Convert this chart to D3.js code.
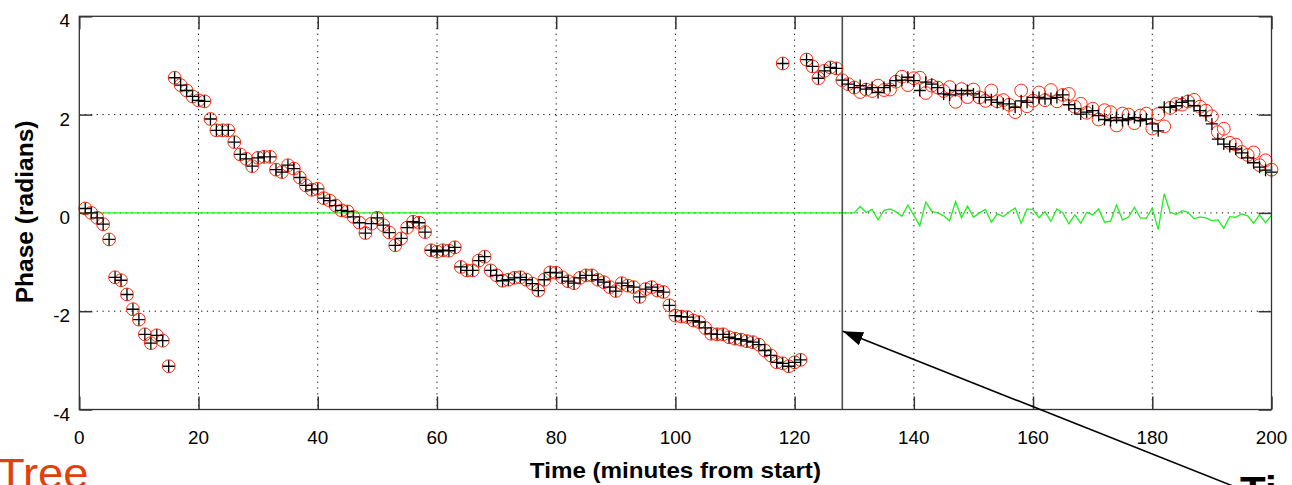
<!DOCTYPE html>
<html>
<head>
<meta charset="utf-8">
<script src="https://cdn.jsdelivr.net/npm/d3@7"></script>
<style>
  html, body { margin: 0; padding: 0; background: #fff; overflow: hidden; }
  svg { display: block; }
  text { font-family: "Liberation Sans", Arial, Helvetica, sans-serif; }
</style>
</head>
<body>
<svg id="chart" width="1292" height="485"></svg>
<script>
// ---- data ---------------------------------------------------------------
// Phase samples before the model switch (fit equals measurement here)
const timeA = [1,2,3,4,5,6,7,8,9,10,11,12,13,14,15,
  16,17,18,19,20,21,22,23,24,25,26,27,28,29,30,31,32,33,34,35,36,37,38,39,40,
  41,42,43,44,45,46,47,48,49,50,51,52,53,54,55,56,57,58,59,60,61,62,63,64,65,
  66,67,68,69,70,71,72,73,74,75,76,77,78,79,80,81,82,83,84,85,86,87,88,89,90,
  91,92,93,94,95,96,97,98,99,100,101,102,103,104,105,106,107,108,109,110,111,
  112,113,114,115,116,117,118,119,120,121,118,122,123,124,125,126,127];
const phaseA = [0.09,0.0,-0.1,-0.23,-0.54,-1.31,-1.37,-1.66,-1.96,-2.17,-2.47,-2.65,-2.49,-2.6,-3.12,
  2.75,2.6,2.49,2.37,2.29,2.27,1.91,1.68,1.68,1.68,1.44,1.19,1.1,0.95,1.12,1.14,1.14,0.88,0.83,0.97,0.9,0.72,0.56,0.47,0.49,
  0.3,0.25,0.15,0.05,0.03,-0.08,-0.2,-0.41,-0.22,-0.1,-0.25,-0.4,-0.66,-0.52,-0.3,-0.18,-0.2,-0.39,-0.76,-0.79,-0.76,-0.77,-0.7,-1.1,-1.17,
  -1.17,-0.97,-0.89,-1.17,-1.27,-1.38,-1.36,-1.32,-1.31,-1.36,-1.44,-1.58,-1.36,-1.21,-1.22,-1.31,-1.39,-1.43,-1.32,-1.27,-1.27,-1.36,-1.41,-1.51,-1.59,
  -1.43,-1.48,-1.51,-1.71,-1.55,-1.51,-1.58,-1.61,-1.88,-2.09,-2.11,-2.12,-2.19,-2.22,-2.34,-2.46,-2.47,-2.47,-2.53,-2.56,-2.58,
  -2.61,-2.63,-2.68,-2.8,-2.9,-3.04,-3.06,-3.12,-3.04,-2.99,3.04,3.12,2.98,2.74,2.89,2.96,2.94];

// Samples after the switch: measured phase and residual (measured - fit)
const timeB = [128,129,130,131,132,133,134,135,136,137,138,139,140,141,142,143,144,145,146,147,148,149,150,
  151,152,153,154,155,156,157,158,159,160,161,162,163,164,165,166,167,168,169,170,171,172,173,174,175,
  176,177,178,179,180,181,182,183,184,185,186,187,188,189,190,191,192,193,194,195,196,197,198,199,200];
const phaseB = [2.70,2.62,2.55,2.59,2.52,2.55,2.45,2.55,2.59,2.69,2.70,2.76,2.69,2.49,2.66,2.62,2.55,2.42,2.40,2.49,2.42,2.49,2.42,
  2.35,2.35,2.30,2.25,2.22,2.22,2.15,2.28,2.25,2.35,2.35,2.32,2.33,2.35,2.40,2.20,2.12,2.01,2.05,2.08,1.98,1.90,1.88,1.94,1.88,
  1.91,1.94,1.88,1.91,1.81,1.67,2.15,2.15,2.18,2.25,2.28,2.18,2.08,1.98,1.81,1.50,1.40,1.35,1.30,1.22,1.12,1.02,0.93,0.87,0.83];
const residB = [0,0,0,0.13,0.01,0.07,-0.14,0.05,0.08,0.02,-0.07,0.16,-0.05,-0.26,0.22,0.03,0.0,-0.06,-0.16,0.23,-0.1,0.135,-0.09,
  0.0,0.07,-0.19,-0.02,-0.075,0.02,0.1,-0.21,0.08,0.067,-0.1,0.027,-0.17,0.08,0.0,-0.22,-0.04,-0.21,0.013,-0.04,0.08,-0.19,-0.17,0.16,-0.14,
  -0.09,0.115,-0.1,-0.11,0.094,-0.34,0.39,0.013,-0.034,0.047,0.013,-0.12,-0.08,-0.1,-0.156,-0.143,-0.312,-0.075,-0.09,-0.02,-0.06,-0.21,-0.04,-0.2,-0.05];

const switchTime = 128;
const xTicks = [0,20,40,60,80,100,120,140,160,180,200];
const yTicks = [-4,-2,0,2,4];
const xTitle = "Time (minutes from start)";
const yTitle = "Phase (radians)";
// arrow annotation in data units: [tail, head]
const arrowFrom = [193.4, -5.55];
const arrowTo = [128.1, -2.41];

// ---- layout -------------------------------------------------------------
const svg = d3.select("#chart");
const x = d3.scaleLinear().domain([0, 200]).range([79.3, 1271.5]);
const y = d3.scaleLinear().domain([-4, 4]).range([409.5, 16.3]);
const [x0, x1] = x.range();
const [y0, y1] = y.range();

const measured = timeA.map((t, i) => ({ t, v: phaseA[i] }))
  .concat(timeB.map((t, i) => ({ t, v: phaseB[i] })));
const fitted = timeA.map((t, i) => ({ t, v: phaseA[i] }))
  .concat(timeB.map((t, i) => ({ t, v: phaseB[i] - residB[i] })));
const residual = [{ t: 0, r: 0 }].concat(timeB.map((t, i) => ({ t, r: residB[i] })));

// dotted grid
const grid = svg.append("g").attr("stroke", "#000").attr("stroke-width", 1)
  .attr("stroke-dasharray", "1.2,4.6");
grid.selectAll("line.gx").data(xTicks.slice(1, -1)).join("line")
  .attr("x1", d => x(d)).attr("x2", d => x(d)).attr("y1", y1).attr("y2", y0);
grid.selectAll("line.gy").data(yTicks.slice(1, -1)).join("line")
  .attr("x1", x0).attr("x2", x1).attr("y1", d => y(d)).attr("y2", d => y(d));

// residual trace
svg.append("path").datum(residual)
  .attr("fill", "none").attr("stroke", "#1fef1f").attr("stroke-width", 1.3)
  .attr("d", d3.line().x(d => x(d.t)).y(d => y(d.r)));

// model switch marker
svg.append("line")
  .attr("x1", x(switchTime)).attr("x2", x(switchTime)).attr("y1", y1).attr("y2", y0)
  .attr("stroke", "#4d4d4d").attr("stroke-width", 1.6);

// fitted phase: red circles
svg.append("g").selectAll("circle").data(fitted).join("circle")
  .attr("cx", d => x(d.t)).attr("cy", d => y(d.v)).attr("r", 6.4)
  .attr("fill", "none").attr("stroke", "#ff2a0a").attr("stroke-width", 1);

// measured phase: black plus signs
const arm = 6;
svg.append("path")
  .attr("fill", "none").attr("stroke", "#000").attr("stroke-width", 1.3)
  .attr("d", measured.map(d => {
    const cx = x(d.t), cy = y(d.v);
    return `M${cx - arm},${cy}H${cx + arm}M${cx},${cy - arm}V${cy + arm}`;
  }).join(""));

// frame and inward ticks
svg.append("rect").attr("x", x0).attr("y", y1).attr("width", x1 - x0).attr("height", y0 - y1)
  .attr("fill", "none").attr("stroke", "#333").attr("stroke-width", 1.3);
const tickLen = 13;
const ax = svg.append("g");
ax.append("g").attr("transform", `translate(0,${y0})`)
  .call(d3.axisBottom(x).tickValues(xTicks).tickSize(-tickLen).tickFormat(""));
ax.append("g").attr("transform", `translate(0,${y1})`)
  .call(d3.axisTop(x).tickValues(xTicks).tickSize(-tickLen).tickFormat(""));
ax.append("g").attr("transform", `translate(${x0},0)`)
  .call(d3.axisLeft(y).tickValues(yTicks).tickSize(-tickLen).tickFormat(""));
ax.append("g").attr("transform", `translate(${x1},0)`)
  .call(d3.axisRight(y).tickValues(yTicks).tickSize(-tickLen).tickFormat(""));
ax.selectAll(".domain").remove();
ax.selectAll(".tick line").attr("stroke", "#333").attr("stroke-width", 1.5);

// tick labels
svg.append("g").selectAll("text").data(xTicks).join("text")
  .attr("transform", d => `translate(${x(d)},444) scale(1.08,1)`)
  .attr("text-anchor", "middle").attr("font-size", 17.5).attr("fill", "#000")
  .text(d => d);
svg.append("g").selectAll("text").data(yTicks).join("text")
  .attr("transform", d => `translate(70,${y(d) + 11}) scale(1.08,1)`)
  .attr("text-anchor", "end").attr("font-size", 17.5).attr("fill", "#000")
  .text(d => d);

// axis titles
svg.append("text")
  .attr("transform", `translate(${(x0 + x1) / 2},478) scale(1.1,1)`)
  .attr("text-anchor", "middle").attr("font-size", 22).attr("font-weight", "bold")
  .text(xTitle);
svg.append("text")
  .attr("transform", `translate(33,${(y0 + y1) / 2 - 1}) rotate(-90) scale(1.17,1.1)`)
  .attr("text-anchor", "middle").attr("font-size", 21).attr("font-weight", "bold")
  .text(yTitle);

// arrow annotation
const defs = svg.append("defs");
defs.append("marker").attr("id", "head")
  .attr("viewBox", "0 0 20 14").attr("refX", 20).attr("refY", 7)
  .attr("markerWidth", 20).attr("markerHeight", 14).attr("markerUnits", "userSpaceOnUse")
  .attr("orient", "auto")
  .append("path").attr("d", "M0,0L20,7L0,14Z").attr("fill", "#000");
svg.append("line")
  .attr("x1", x(arrowFrom[0])).attr("y1", y(arrowFrom[1]))
  .attr("x2", x(arrowTo[0])).attr("y2", y(arrowTo[1]))
  .attr("stroke", "#000").attr("stroke-width", 1.6)
  .attr("marker-end", "url(#head)");

// slide captions along the bottom edge
svg.append("text").attr("transform", "translate(-3,488) scale(1.08,1)")
  .attr("font-size", 42).attr("fill", "#e0400c").text("Tree");
svg.append("text").attr("transform", "translate(1240,505) scale(1.05,1)")
  .attr("font-size", 40).attr("font-weight", "bold").attr("fill", "#000").text("Ti");
</script>
</body>
</html>
